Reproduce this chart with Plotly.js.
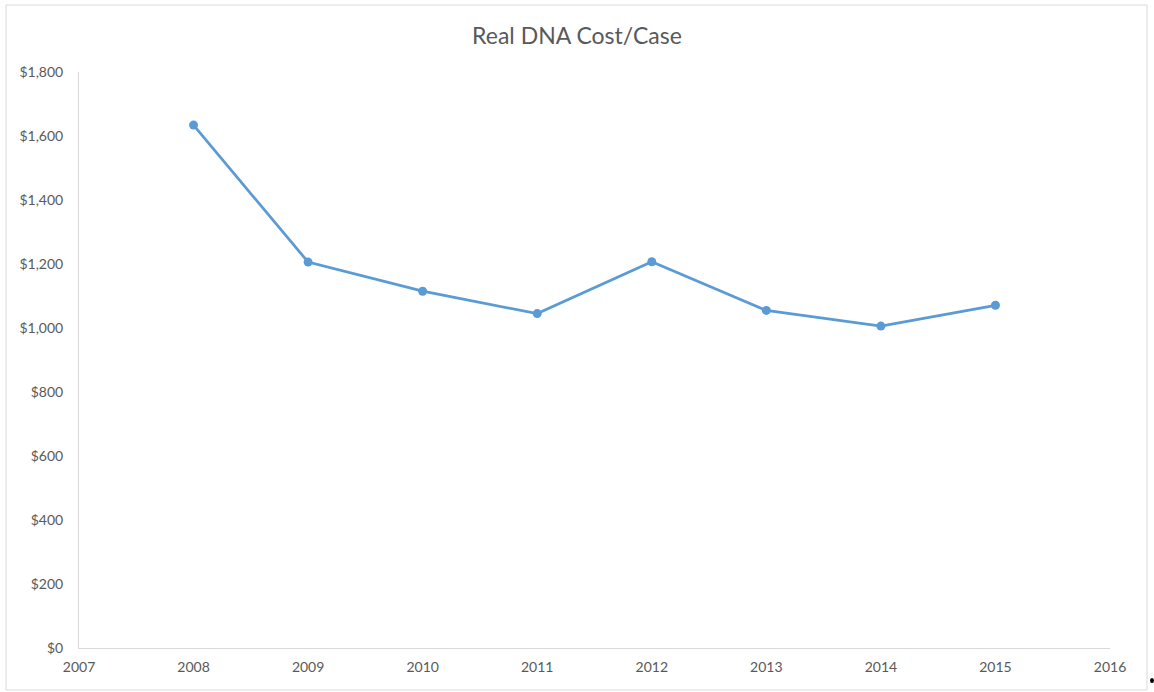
<!DOCTYPE html>
<html>
<head>
<meta charset="utf-8">
<script src="https://cdn.plot.ly/plotly-3.0.1.min.js"></script>
<style>html,body{margin:0;padding:0;background:#fff;}#chart{width:1154px;height:692px;}</style>
</head>
<body>
<div id="chart"></div>
<script>
const years = [2008, 2009, 2010, 2011, 2012, 2013, 2014, 2015];
const costPerCase = [1634, 1206, 1115, 1045, 1207, 1055, 1006, 1071];
const yTickVals = [0, 200, 400, 600, 800, 1000, 1200, 1400, 1600, 1800];
const yTickText = ['$0', '$200', '$400', '$600', '$800', '$1,000', '$1,200', '$1,400', '$1,600', '$1,800'];
const xTickVals = [2007, 2008, 2009, 2010, 2011, 2012, 2013, 2014, 2015, 2016];

const font = 'Lato, "Open Sans", sans-serif';
const trace = {
  x: years, y: costPerCase, type: 'scatter', mode: 'lines+markers',
  line: {color: '#5b9bd5', width: 2.75},
  marker: {color: '#5b9bd5', size: 9},
  hoverinfo: 'x+y'
};
const layout = {
  width: 1154, height: 692,
  margin: {l: 79, r: 44, t: 72, b: 44},
  paper_bgcolor: '#fff', plot_bgcolor: '#fff',
  showlegend: false,
  font: {family: font, color: '#595959', size: 14},
  title: {text: 'Real DNA Cost/Case', font: {family: font, size: 23, color: '#595959'},
          x: 577/1154, xref: 'container', xanchor: 'center', y: 1 - 36/692, yref: 'container', yanchor: 'middle'},
  xaxis: {range: [2007, 2016], tickvals: xTickVals, ticktext: xTickVals.map(String),
          showgrid: false, zeroline: false, showline: true, linecolor: '#d9d9d9', linewidth: 1,
          ticks: '', ticklabelstandoff: 6, tickfont: {family: font, size: 14, color: '#595959'}, fixedrange: true},
  yaxis: {range: [0, 1800], tickvals: yTickVals, ticktext: yTickText,
          showgrid: false, zeroline: false, showline: true, linecolor: '#d9d9d9', linewidth: 1,
          ticks: '', ticklabelstandoff: 12, tickfont: {family: font, size: 14, color: '#595959'}, fixedrange: true},
  shapes: [
    {type: 'rect', xref: 'paper', yref: 'paper', layer: 'below',
     x0: (6 - 79) / 1031, x1: (1147 - 79) / 1031, y0: (648 - 690) / 576, y1: (648 - 5) / 576,
     line: {color: '#d9d9d9', width: 1}, fillcolor: 'rgba(0,0,0,0)'},
    {type: 'circle', xref: 'paper', yref: 'paper',
     x0: (1150 - 79) / 1031, x1: (1154 - 79) / 1031, y0: (648 - 683) / 576, y1: (648 - 678) / 576,
     line: {width: 0}, fillcolor: '#000'}
  ]
};
Plotly.newPlot('chart', [trace], layout, {displayModeBar: false, staticPlot: true});
</script>
</body>
</html>
